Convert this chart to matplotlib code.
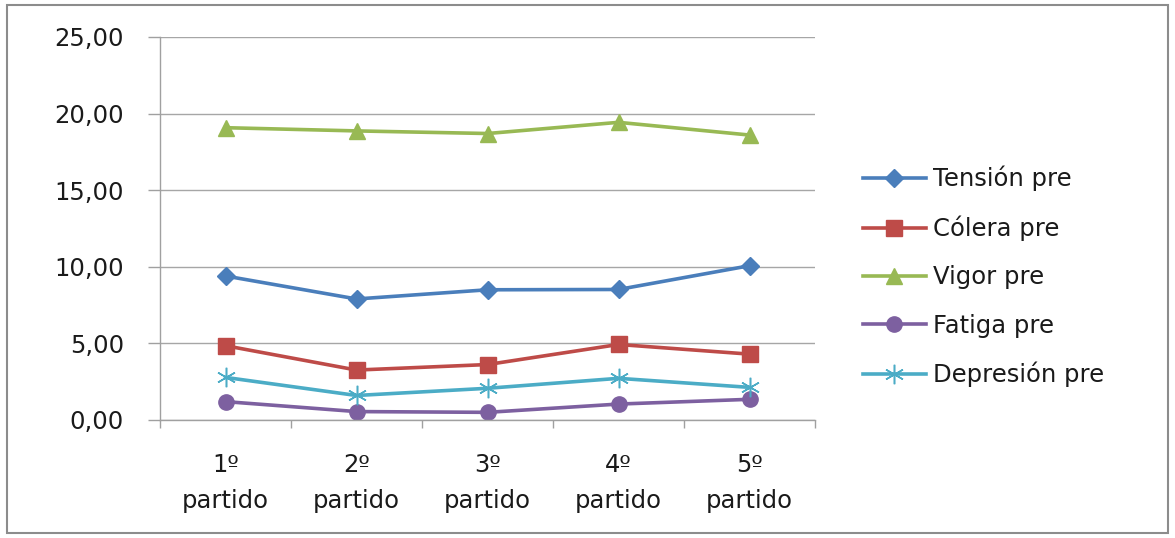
import matplotlib
matplotlib.use("Agg")
import matplotlib.pyplot as plt
from matplotlib.patches import Rectangle
from matplotlib.ticker import FixedLocator, FuncFormatter, NullFormatter

# Match labels along the x axis
categories = ["1º\npartido", "2º\npartido", "3º\npartido", "4º\npartido", "5º\npartido"]

# Mean mood scores before each match
tension_pre = [9.40, 7.90, 8.50, 8.52, 10.07]
colera_pre = [4.85, 3.26, 3.62, 4.93, 4.30]
vigor_pre = [19.08, 18.87, 18.70, 19.43, 18.60]
fatiga_pre = [1.20, 0.55, 0.50, 1.04, 1.35]
depresion_pre = [2.78, 1.60, 2.07, 2.72, 2.13]

series_names = ["Tensión pre", "Cólera pre", "Vigor pre", "Fatiga pre", "Depresión pre"]
y_ticks = [0, 5, 10, 15, 20, 25]

plt.rcParams['font.family'] = ['DejaVu Sans']
FS = 17.5

fig = plt.figure(figsize=(11.75, 5.38), dpi=100)
fig.patch.set_facecolor("white")
fig.add_artist(Rectangle((7 / 1175, 5 / 538), 1161 / 1175, 528 / 538,
                         transform=fig.transFigure, fill=False,
                         edgecolor="#8c8c8c", linewidth=1.5))

ax = fig.add_axes([160 / 1175, 118 / 538, 655 / 1175, 383 / 538])

x = list(range(len(categories)))
styles = [
    (tension_pre, "#4A7EBB", "D", 9),
    (colera_pre, "#BE4B48", "s", 11),
    (vigor_pre, "#98B954", "^", 12),
    (fatiga_pre, "#7D60A0", "o", 11),
    (depresion_pre, "#4BACC6", (6, 2, 0), 14),
]
for (vals, color, marker, ms), name in zip(styles, series_names):
    if isinstance(marker, tuple):
        ax.plot(x, vals, color=color, linewidth=2.6, marker=marker, markersize=ms,
                markeredgecolor=color, markeredgewidth=1.1, label=name)
    else:
        ax.plot(x, vals, color=color, linewidth=2.6, marker=marker, markersize=ms,
                markerfacecolor=color, markeredgecolor=color, label=name)

ax.set_xlim(-0.5, len(categories) - 0.5)
ax.set_ylim(0, 25)

ax.set_yticks(y_ticks)
ax.yaxis.set_major_formatter(FuncFormatter(lambda v, p: f"{v:.2f}".replace(".", ",")))
ax.tick_params(axis="y", length=9, width=1, color="#a0a0a0", pad=17,
               labelsize=FS, labelcolor="#1a1a1a", direction="out")

ax.xaxis.set_major_locator(FixedLocator([i - 0.5 for i in range(len(categories) + 1)]))
ax.xaxis.set_major_formatter(NullFormatter())
ax.xaxis.set_minor_locator(FixedLocator(x))
ax.set_xticklabels(categories, minor=True)
ax.tick_params(axis="x", which="major", length=6, width=1, color="#a0a0a0", direction="out")
ax.tick_params(axis="x", which="minor", length=0, pad=24, labelsize=FS, labelcolor="#1a1a1a")
for lbl in ax.get_xticklabels(minor=True):
    lbl.set_linespacing(1.6)

ax.grid(axis="y", color="#a6a6a6", linewidth=1)
ax.set_axisbelow(True)
for side in ["top", "right"]:
    ax.spines[side].set_visible(False)
for side in ["left", "bottom"]:
    ax.spines[side].set_color("#a0a0a0")
    ax.spines[side].set_linewidth(1)

leg = fig.legend(loc="upper left", bbox_to_anchor=(853 / 1175, 1 - 156 / 538),
                 frameon=False, fontsize=FS, handlelength=2.6, handletextpad=0.3,
                 labelspacing=1.0, borderaxespad=0)
for t in leg.get_texts():
    t.set_color("#1a1a1a")

fig.savefig("out.png", dpi=100, facecolor="white")
